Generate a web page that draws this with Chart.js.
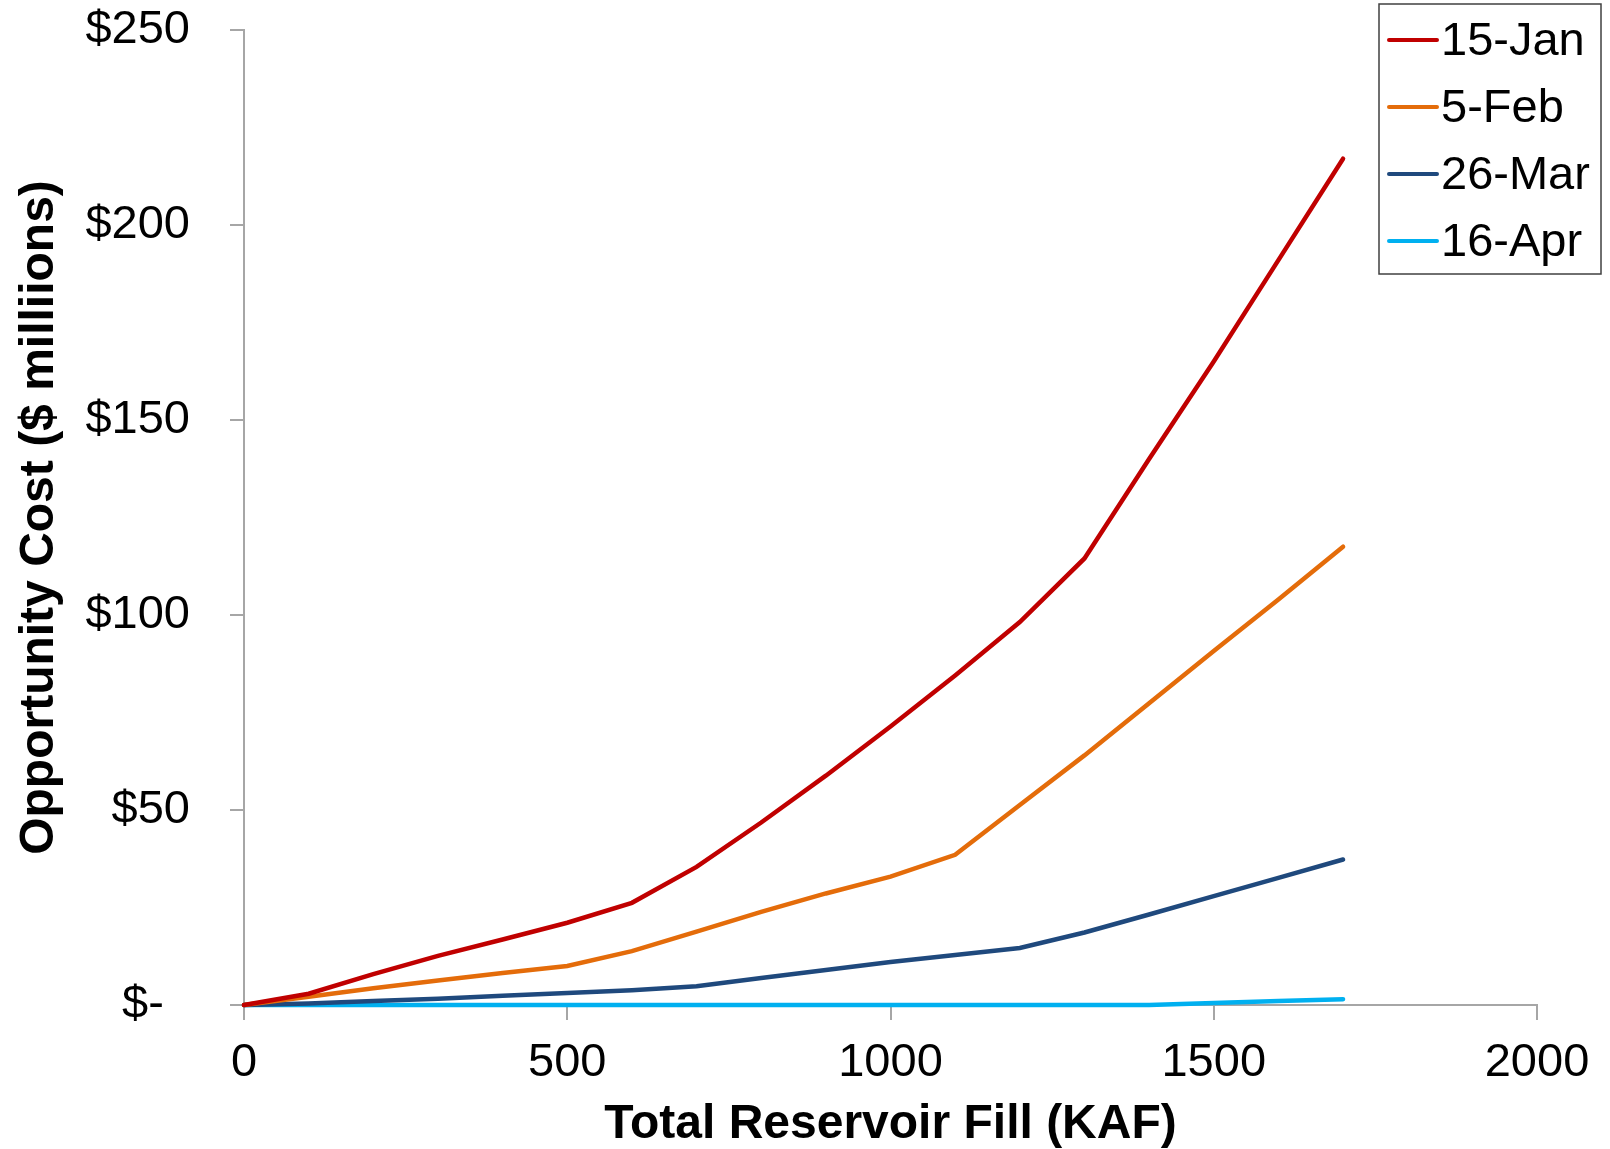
<!DOCTYPE html>
<html>
<head>
<meta charset="utf-8">
<script src="https://cdn.jsdelivr.net/npm/chart.js@4.4.1/dist/chart.umd.min.js"></script>
<style>
  html, body { margin: 0; padding: 0; background: #fff; }
  #wrap { position: relative; width: 1610px; height: 1149px; }
</style>
</head>
<body>
<div id="wrap"><canvas id="chart" width="1610" height="1149"></canvas></div>
<script>
// Total reservoir fill (KAF)
const fillKaf = [0, 100, 200, 300, 400, 500, 600, 700, 800, 900, 1000, 1100, 1200, 1300, 1400, 1500, 1600, 1700];

// Opportunity cost ($ millions) per forecast date
const jan15 = [0, 2.9, 7.9, 12.6, 16.8, 21.1, 26.2, 35.4, 46.8, 58.8, 71.4, 84.5, 98.2, 114.5, 140, 165, 191, 217];
const feb5  = [0, 2.1, 4.3, 6.3, 8.2, 10.0, 13.8, 18.8, 23.9, 28.6, 32.9, 38.5, 51.3, 64.0, 77.4, 90.8, 104, 117.5];
const mar26 = [0, 0.4, 1.0, 1.6, 2.4, 3.1, 3.8, 4.8, 6.9, 9.0, 11.0, 12.8, 14.6, 18.6, 23.2, 27.9, 32.6, 37.3];
const apr16 = [0, 0, 0, 0, 0, 0, 0, 0, 0, 0, 0, 0, 0, 0, 0, 0.5, 1.0, 1.5];

const seriesNames = ['15-Jan', '5-Feb', '26-Mar', '16-Apr'];
const seriesColors = ['#C00000', '#E46C0A', '#1F497D', '#00B0F0'];

const xTicks = [0, 500, 1000, 1500, 2000];
const yTicks = [0, 50, 100, 150, 200, 250];

const axisGray = '#A6A6A6';
const font = "'Liberation Sans', Arial, sans-serif";

function toPoints(vals) {
  return vals.map((v, i) => ({ x: fillKaf[i], y: v }));
}

const datasets = [jan15, feb5, mar26, apr16].map((vals, i) => ({
  label: seriesNames[i],
  data: toPoints(vals),
  borderColor: seriesColors[i],
  backgroundColor: seriesColors[i],
  borderWidth: 4.5,
  borderCapStyle: 'round',
  pointRadius: 0,
  tension: 0,
  fill: false,
  clip: false
}));

// legend box drawn at the top right, partly outside the plot area
const boxLegend = {
  id: 'boxLegend',
  afterDraw(chart) {
    const ctx = chart.ctx;
    const left = 1379, top = 4, w = 222, h = 270;
    ctx.save();
    ctx.fillStyle = '#fff';
    ctx.fillRect(left, top, w, h);
    ctx.strokeStyle = '#404040';
    ctx.lineWidth = 1.5;
    ctx.strokeRect(left, top, w, h);
    ctx.font = '47px ' + font;
    ctx.textBaseline = 'middle';
    ctx.textAlign = 'left';
    chart.data.datasets.forEach((ds, i) => {
      const y = top + 36 + i * 67;
      ctx.strokeStyle = ds.borderColor;
      ctx.lineWidth = 4;
      ctx.lineCap = 'round';
      ctx.beginPath();
      ctx.moveTo(left + 10, y);
      ctx.lineTo(left + 58, y);
      ctx.stroke();
      ctx.fillStyle = '#000';
      ctx.fillText(ds.label, left + 62, y + 2);
    });
    ctx.restore();
  }
};

new Chart(document.getElementById('chart'), {
  type: 'line',
  data: { datasets: datasets },
  plugins: [boxLegend],
  options: {
    responsive: false,
    animation: false,
    layout: { padding: { left: 0, top: 30, right: 73, bottom: 0 } },
    plugins: {
      legend: { display: false },
      tooltip: { enabled: false }
    },
    scales: {
      x: {
        type: 'linear',
        min: 0,
        max: 2000,
        afterBuildTicks: s => { s.ticks = xTicks.map(v => ({ value: v })); },
        afterFit: s => { s.height = 144; s.paddingLeft = 0; s.paddingRight = 0; },
        border: { display: true, color: axisGray, width: 2 },
        grid: { display: true, drawOnChartArea: false, drawTicks: true, tickLength: 15, color: axisGray, lineWidth: 2 },
        ticks: {
          color: '#000',
          font: { family: font, size: 47 },
          padding: 15,
          maxRotation: 0,
          callback: v => String(v)
        },
        title: {
          display: true,
          text: 'Total Reservoir Fill (KAF)',
          color: '#000',
          font: { family: font, size: 48, weight: 'bold', lineHeight: 1 },
          padding: { top: 0, bottom: 0 }
        }
      },
      y: {
        type: 'linear',
        min: 0,
        max: 250,
        afterBuildTicks: s => { s.ticks = yTicks.map(v => ({ value: v })); },
        afterFit: s => { s.width = 244; s.paddingTop = 0; s.paddingBottom = 0; },
        border: { display: true, color: axisGray, width: 2 },
        grid: { display: true, drawOnChartArea: false, drawTicks: true, tickLength: 14, color: axisGray, lineWidth: 2 },
        ticks: {
          color: '#000',
          font: { family: font, size: 47 },
          padding: 40,
          callback: v => v === 0 ? '$-  ' : '$' + v
        },
        title: {
          display: true,
          text: 'Opportunity Cost ($ milliions)',
          color: '#000',
          font: { family: font, size: 48, weight: 'bold', lineHeight: 1 },
          padding: { top: 16, bottom: 0 }
        }
      }
    }
  }
});
</script>
</body>
</html>
